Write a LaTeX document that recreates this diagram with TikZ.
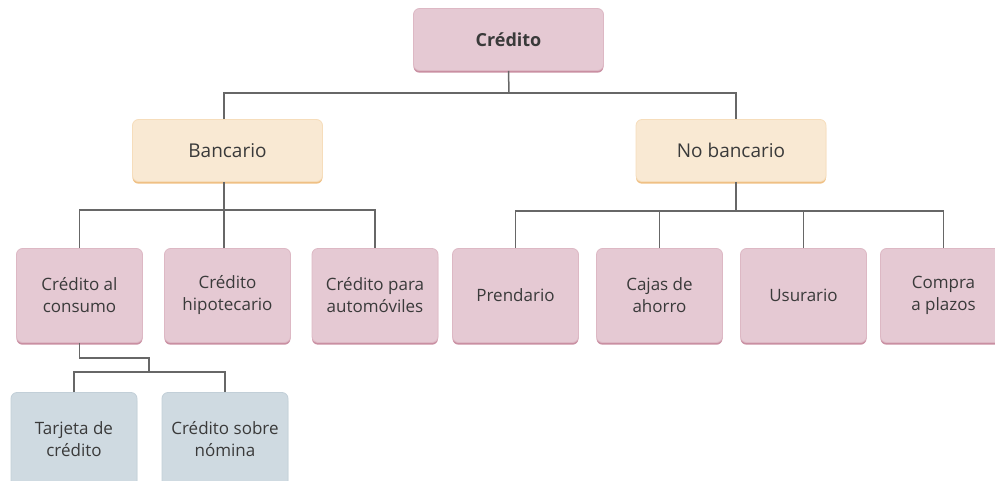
\documentclass[tikz,border=0pt]{standalone}
\usepackage{fontspec}
\setmainfont{Open Sans}
\definecolor{pinkf}{HTML}{E5C9D3}
\definecolor{pinkb}{HTML}{C98FA2}
\definecolor{creamf}{HTML}{F9E9D3}
\definecolor{creamb}{HTML}{EFC084}
\definecolor{bluef}{HTML}{CFDAE1}
\definecolor{blueb}{HTML}{A5B6C2}
\definecolor{linec}{HTML}{676767}
\definecolor{txt}{HTML}{3A3A3A}
\begin{document}
\begin{tikzpicture}[x=1pt,y=-1pt,
  base/.style={rounded corners=6pt, align=center, inner sep=0pt, text=txt,
    font=\fontsize{17}{22}\selectfont},
  pinkbox/.style={base, fill=pinkf, draw=pinkf!70!pinkb, line width=0.8pt,
    preaction={fill=pinkb, transform canvas={yshift=-2.2pt}}},
  creambox/.style={base, fill=creamf, draw=creamf!70!creamb, line width=0.8pt,
    preaction={fill=creamb, transform canvas={yshift=-2.2pt}}},
  bluebox/.style={base, fill=bluef, draw=bluef!70!blueb, line width=0.8pt,
    preaction={fill=blueb, transform canvas={yshift=-2.2pt}}},
  lvlone/.style={minimum width=190pt, minimum height=62pt, font=\fontsize{19}{23}\selectfont},
  lvltwo/.style={minimum width=126pt, minimum height=94pt},
  conn/.style={draw=linec, line width=1.5pt}
]
\useasboundingbox (0,0) rectangle (995,481);
\clip (0,0) rectangle (995,481);

\node[pinkbox, lvlone, font=\fontsize{18}{22}\selectfont\bfseries] (cred) at (508.5,39.5) {Crédito};
\node[creambox, lvlone] (banc) at (227.5,150.5) {Bancario};
\node[creambox, lvlone] (nob) at (731,150.5) {No bancario};

\node[pinkbox, lvltwo] (cons) at (79.5,295.5) {Crédito al\\consumo};
\node[pinkbox, lvltwo] (hip) at (227.5,295.5) {Crédito\\hipotecario};
\node[pinkbox, lvltwo] (auto) at (375,295.5) {Crédito para\\automóviles};
\node[pinkbox, lvltwo] (prend) at (515.5,295.5) {Prendario};
\node[pinkbox, lvltwo] (cajas) at (659.5,295.5) {Cajas de\\ahorro};
\node[pinkbox, lvltwo] (usur) at (803.5,295.5) {Usurario};
\node[pinkbox, lvltwo] (compra) at (943.5,295.5) {Compra\\a plazos};

\node[bluebox, lvltwo] (tarj) at (74,439.5) {Tarjeta de\\crédito};
\node[bluebox, lvltwo] (nom) at (225,439.5) {Crédito sobre\\nómina};

\coordinate (j1) at (509,93);
\coordinate (jb) at (224,210);
\coordinate (jn) at (736,211);
\coordinate (jc1) at (149,358);
\coordinate (jc2) at (149,372);

\draw[conn] (cred.south) -- (j1);
\draw[conn] ([xshift=-3.5pt]banc.north) |- (j1) -| ([xshift=5pt]nob.north);
\draw[conn] ([xshift=-3.5pt]banc.south) -- (jb);
\draw[conn] (cons.north) |- (jb) -| (auto.north);
\draw[conn] ([xshift=-3.5pt]hip.north) -- ([xshift=-3.5pt]hip.north |- jb);
\draw[conn] ([xshift=5pt]nob.south) -- (jn);
\draw[conn] (prend.north) |- (jn) -| (compra.north);
\draw[conn] (cajas.north) -- (cajas.north |- jn);
\draw[conn] (usur.north) -- (usur.north |- jn);
\draw[conn] (cons.south) |- (jc1) -- (jc2);
\draw[conn] (tarj.north) |- (jc2) -| (nom.north);
\end{tikzpicture}
\end{document}
